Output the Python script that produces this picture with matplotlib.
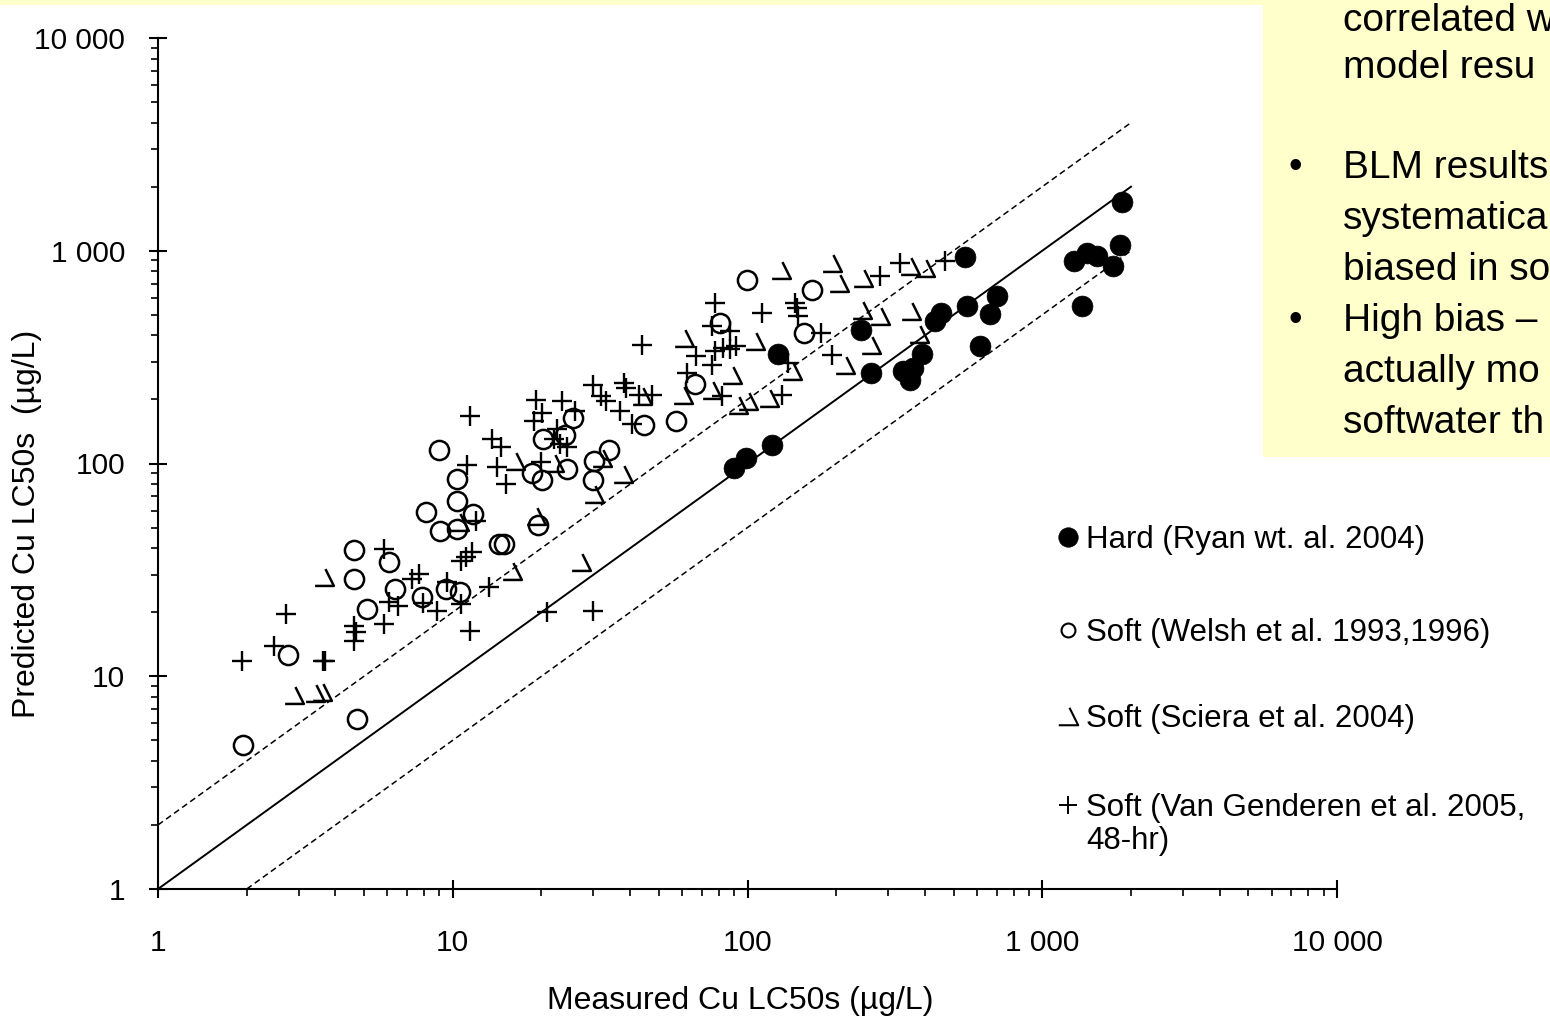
import numpy as np
import matplotlib.pyplot as plt
from matplotlib.path import Path
from matplotlib.patches import Rectangle
from matplotlib.ticker import LogLocator, FuncFormatter, NullFormatter

plt.rcParams['font.family'] = ['Liberation Sans', 'DejaVu Sans']

# measured vs predicted Cu LC50s (ug/L)
hard_x = [1862, 1834, 1735, 1531, 1416, 1279, 1362, 701, 663, 554,
          546, 452, 431, 613, 390, 363, 336, 355, 262, 242,
          127, 121, 99, 90]
hard_y = [1703, 1067, 850, 947, 979, 897, 550, 613, 504, 550,
          937, 510, 467, 356, 327, 281, 272, 246, 266, 424,
          327, 122, 106, 95]

welsh_x = [1.94, 2.76, 4.74, 4.63, 4.63, 6.09, 5.13, 6.38, 7.88, 8.13,
           9.0, 9.07, 9.5, 10.3, 10.3, 10.3, 10.6, 11.7, 14.4, 14.9,
           19.5, 18.6, 20.3, 20.1, 24.1, 24.5, 25.5, 30.2, 29.8, 34.0,
           44.7, 57.0, 66.1, 80.4, 99.3, 156, 166]
welsh_y = [4.73, 12.6, 6.27, 39.3, 28.7, 34.5, 20.7, 25.7, 23.6, 59.4,
           116, 48.3, 25.7, 66.9, 85, 49.4, 24.9, 58.1, 41.9, 41.9,
           51.6, 90.7, 130, 83.2, 136, 94.7, 163, 103, 83.2, 116,
           151, 158, 236, 457, 730, 410, 655]

sciera_x = [3.66, 2.90, 3.41, 3.60, 10.5, 16.2, 22.1, 19.2, 32.2, 37.9,
            30.2, 15.9, 44.0, 27.3, 130, 194, 205, 246, 355, 399,
            61.1, 106, 88.9, 75.5, 60.6, 92.5, 100, 118, 142, 215,
            244, 281, 262, 360, 381]
sciera_y = [29.3, 8.13, 8.3, 8.4, 53.2, 103, 101, 56.9, 106, 89.7,
            72.2, 31.3, 207, 34.5, 813, 878, 707, 746, 850, 831,
            389, 376, 260, 221, 209, 188, 196, 203, 272, 290,
            527, 494, 360, 521, 406]

vang_x = [11.4, 13.6, 14.6, 11.2, 14.1, 15.2, 12.0, 11.6, 11.1, 13.3,
          5.85, 7.70, 7.29, 6.09, 6.5, 9.58, 10.7, 8.86, 11.4, 4.63,
          4.70, 4.63, 5.85, 2.72, 2.48, 1.93, 3.62, 3.70, 19.2, 23.4,
          20.1, 18.9, 22.5, 25.9, 22.1, 23.1, 24.5, 20.0, 29.8, 31.9,
          33.0, 38.2, 38.6, 43.0, 47.6, 36.8, 40.6, 20.9, 29.8, 44.0,
          77.3, 75.5, 86.9, 112, 144.5, 147, 148, 281, 67.1, 77.3,
          82.4, 86.9, 91.4, 75.5, 62.1, 82.2, 131, 137, 193, 328,
          467, 177, 7.9, 10.7]
vang_y = [167, 131, 120, 98.9, 96, 80.5, 53.8, 38.5, 36.4, 26.3,
          39.7, 30.3, 28.7, 22.4, 21.5, 27.8, 21.9, 20.3, 16.3, 17.2,
          16.1, 14.6, 17.6, 19.6, 13.9, 11.8, 11.8, 11.8, 198, 196,
          172, 158, 146, 176, 130, 124, 120, 102, 233, 207,
          196, 239, 227, 209, 209, 176, 154, 20.0, 20.3, 360,
          569, 443, 419, 510, 569, 538, 494, 762, 320, 338,
          349, 344, 357, 290, 266, 207, 209, 296, 323, 878,
          897, 410, 22.0, 34.9]

labels = ['Hard (Ryan wt. al. 2004)',
          'Soft (Welsh et al. 1993,1996)',
          'Soft (Sciera et al. 2004)',
          'Soft (Van Genderen et al. 2005,\n48-hr)']

# 1:1 line and factor-of-two band
line_x = [1, 2000]
factor = 2

box_lines = [('correlated w', 31, False), ('model resu', 78, False),
             ('BLM results', 178, True), ('systematica', 229, False),
             ('biased in so', 280, False), ('High bias \u2013', 331, True),
             ('actually mo', 382, False), ('softwater th', 433, False)]

# open "right triangle" marker as drawn in the original
tri = Path([(0.05, 0.45), (0.5, -0.45), (-0.5, -0.45)],
           [Path.MOVETO, Path.LINETO, Path.LINETO])

W, H = 1550, 1016
fig = plt.figure(figsize=(15.5, 10.16), dpi=100)
ax = fig.add_axes([158 / W, 127 / H, 1179 / W, 851 / H])
ax.set_xscale('log')
ax.set_yscale('log')
ax.set_xlim(1, 10000)
ax.set_ylim(1, 10000)

lx = np.array(line_x, dtype=float)
ax.plot(lx, lx, color='black', lw=1.4, zorder=2)
ax.plot(lx, lx * factor, color='black', lw=1.1, dashes=(4, 2.5), zorder=2)
ax.plot([lx[0] * factor, lx[1]], [lx[0], lx[1] / factor], color='black',
        lw=1.1, dashes=(4, 2.5), zorder=2)

ax.plot(vang_x, vang_y, ls='none', marker='+', ms=14.5, mew=1.7,
        color='black', zorder=3)
ax.plot(sciera_x, sciera_y, ls='none', marker=tri, ms=13.5, mew=1.8,
        mfc='none', mec='black', zorder=3)
ax.plot(welsh_x, welsh_y, ls='none', marker='o', ms=13.8, mew=1.8,
        mfc='none', mec='black', zorder=3)
ax.plot(hard_x, hard_y, ls='none', marker='o', ms=15, mew=0.5,
        mfc='black', mec='black', zorder=4)

for s in ['top', 'right']:
    ax.spines[s].set_visible(False)
for s in ['left', 'bottom']:
    ax.spines[s].set_linewidth(1.5)

for axis in [ax.xaxis, ax.yaxis]:
    axis.set_major_locator(LogLocator(base=10, numticks=10))
    axis.set_minor_locator(LogLocator(base=10, subs=np.arange(2, 10), numticks=100))
    axis.set_major_formatter(FuncFormatter(lambda v, p: f'{int(round(v)):,}'.replace(',', ' ')))
    axis.set_minor_formatter(NullFormatter())

ax.tick_params(which='major', direction='inout', length=13.5, width=1.5,
               labelsize=21.5)
ax.tick_params(which='minor', direction='out', length=5, width=1.2)
ax.tick_params(axis='x', which='major', pad=22)
ax.tick_params(axis='y', which='major', pad=17)

ax.set_xlabel('Measured Cu LC50s (\u00b5g/L)', fontsize=23)
ax.set_ylabel('Predicted Cu LC50s  (\u00b5g/L)', fontsize=23)
ax.xaxis.set_label_coords(0.4936, -0.1135)
ax.yaxis.set_label_coords(-0.0984, 0.429)

# manual legend
def fpos(px, py):
    return px / W, 1 - py / H

leg_rows = [537, 630, 716, 805]
leg_style = [dict(marker='o', ms=14, mfc='black', mec='black', mew=0.5),
             dict(marker='o', ms=10, mfc='none', mec='black', mew=1.5),
             dict(marker=tri, ms=14, mfc='none', mec='black', mew=1.5),
             dict(marker='+', ms=13, mec='black', mew=1.4)]
for row, lab, st in zip(leg_rows, labels, leg_style):
    mx, my = fpos(1068, row)
    ax.plot([mx], [my], transform=fig.transFigure, clip_on=False,
            ls='none', **st)
    tx, ty = fpos(1086, row + 11)
    if '\n' in lab:
        fig.text(tx, 1 - (row - 12) / H, lab, fontsize=22.5, va='top',
                 ha='left', linespacing=1.15)
    else:
        fig.text(tx, ty, lab, fontsize=22.5, va='baseline', ha='left')

# yellow text box (cut off at the right edge)
fig.add_artist(Rectangle((0, 1 - 5 / H), 1, 5 / H, transform=fig.transFigure,
                         facecolor='#FFFFCC', edgecolor='none', zorder=1))
fig.add_artist(Rectangle((1263 / W, 1 - 457 / H), (W - 1263) / W, 457 / H,
                         transform=fig.transFigure, facecolor='#FFFFCC',
                         edgecolor='none', zorder=1))
for txt, base, bullet in box_lines:
    fig.text(1343 / W, 1 - base / H, txt, fontsize=28, va='baseline',
             ha='left', zorder=2)
    if bullet:
        fig.text(1288 / W, 1 - base / H, '\u2022', fontsize=28,
                 va='baseline', ha='left', zorder=2)

fig.savefig('out.png', dpi=100)
